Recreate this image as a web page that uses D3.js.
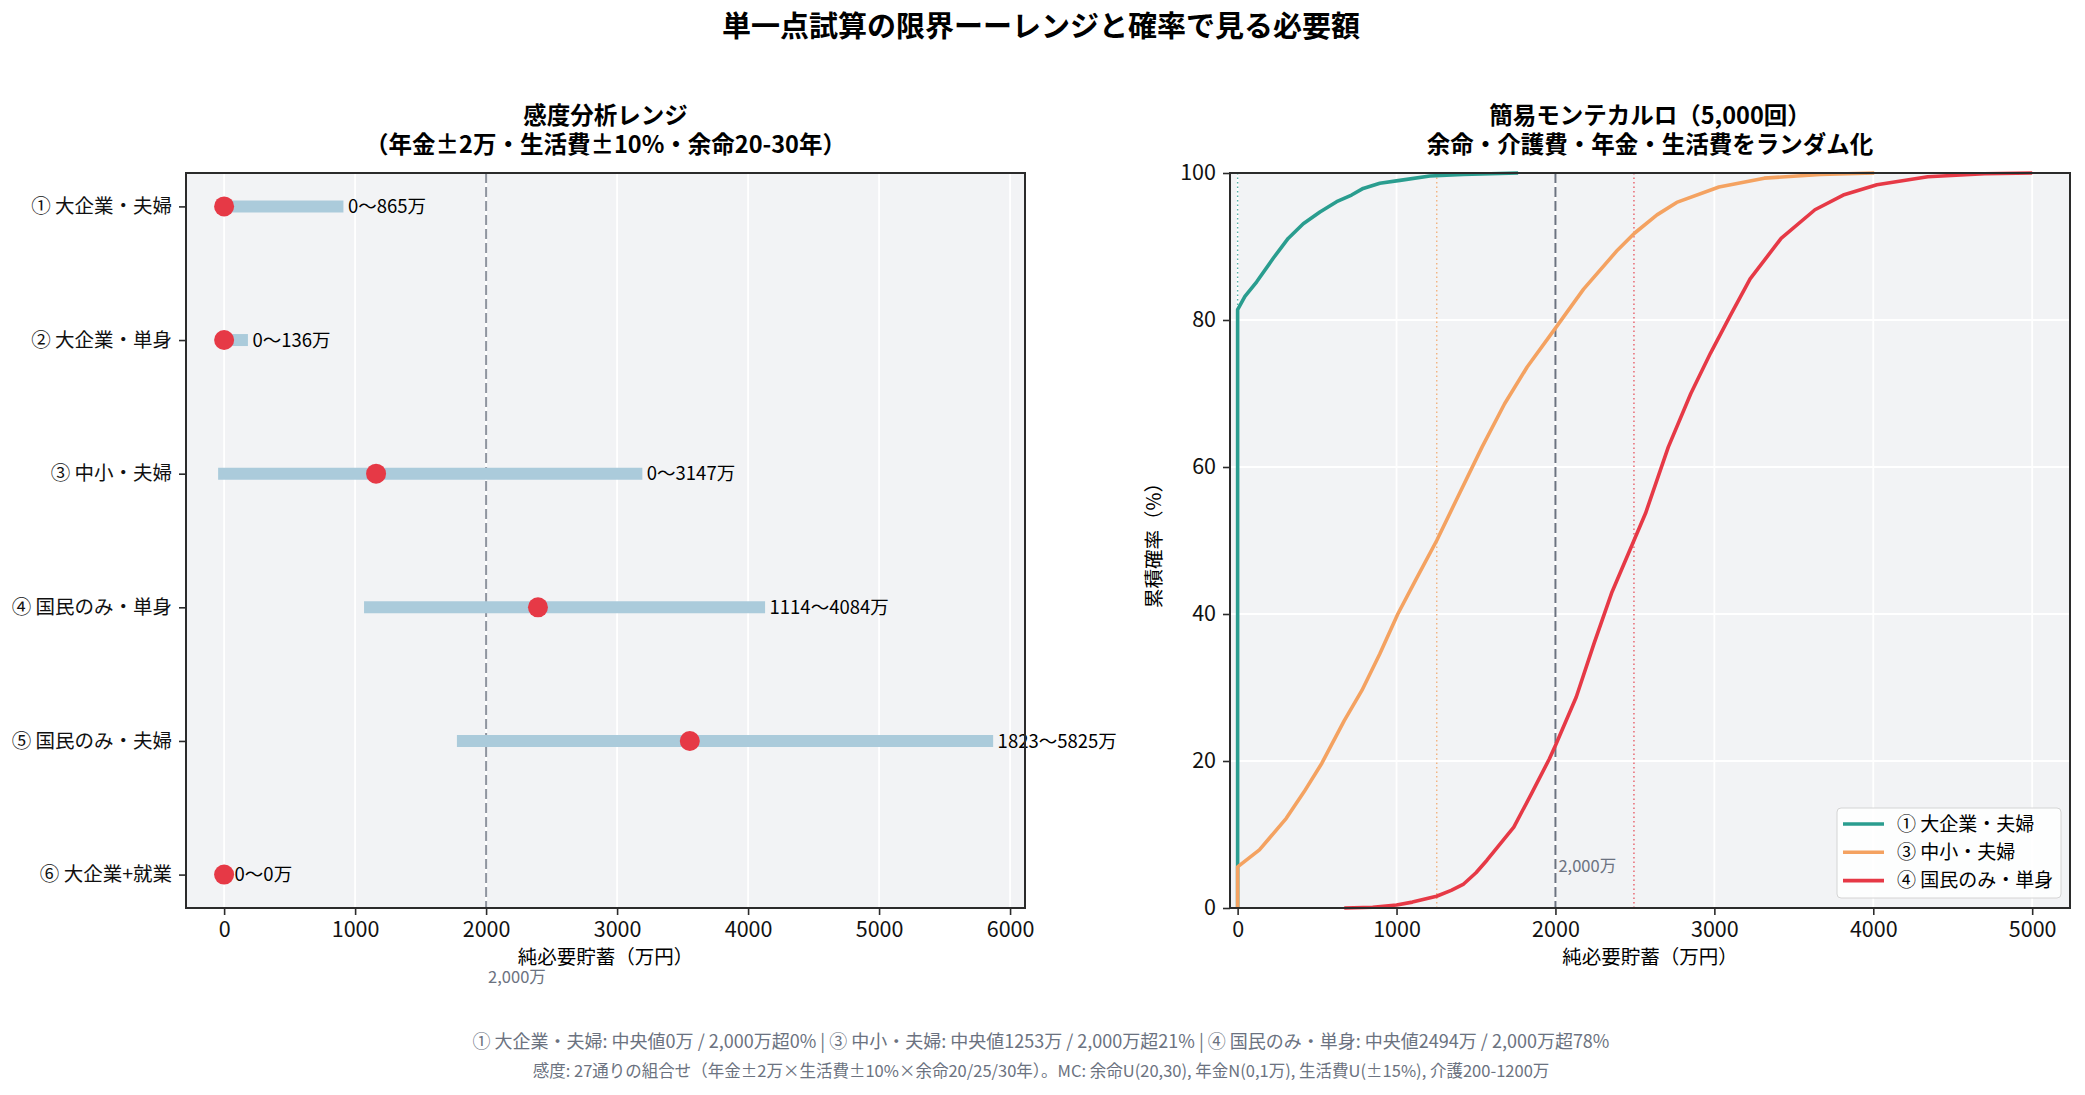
<!DOCTYPE html>
<html>
<head>
<meta charset="utf-8">
<script src="https://cdn.jsdelivr.net/npm/d3@7"></script>
<style>
  body { margin: 0; background: #fff; }
  svg text { font-family: "Noto Sans CJK JP", "Noto Sans", sans-serif; }
</style>
</head>
<body>
<div id="chart"></div>
<script>
// --- data: sensitivity ranges (left panel) ---
const categories = ["① 大企業・夫婦", "② 大企業・単身", "③ 中小・夫婦", "④ 国民のみ・単身", "⑤ 国民のみ・夫婦", "⑥ 大企業+就業"];
const rangeLow = [0, 0, 0, 1114, 1823, 0];
const rangeHigh = [865, 136, 3147, 4084, 5825, 0];
const baseValue = [0, 0, 1160, 2396, 3555, 0];

// --- data: Monte Carlo CDFs (right panel), [万円, %] ---
const seriesNames = ["① 大企業・夫婦", "③ 中小・夫婦", "④ 国民のみ・単身"];
const seriesColors = ["#2a9d8f", "#f4a261", "#e63946"];
const seriesMedians = [0, 1253, 2494];
const cdfCouple = [[0, 0], [0, 81.4], [46, 83.2], [120, 85.2], [224, 88.4], [318, 91.1], [413, 93.1], [518, 94.7],
  [623, 96.1], [717, 97.0], [790, 97.9], [895, 98.6], [1021, 99.0], [1210, 99.6], [1419, 99.8], [1765, 100]];
const cdfSme = [[0, 0], [0, 5.6], [137, 7.9], [306, 12.2], [418, 15.8], [530, 19.7], [671, 25.5], [782, 29.6],
  [895, 34.6], [1008, 40.0], [1120, 44.6], [1253, 50.0], [1396, 56.4], [1538, 62.7], [1680, 68.6], [1822, 73.6],
  [2000, 78.9], [2177, 84.2], [2390, 89.5], [2497, 91.8], [2639, 94.3], [2763, 96.0], [3029, 98.1], [3314, 99.3],
  [3668, 99.8], [4006, 100]];
const cdfNational = [[671, 0], [850, 0.1], [1000, 0.4], [1100, 0.8], [1252, 1.6], [1344, 2.4], [1419, 3.2],
  [1500, 4.8], [1569, 6.5], [1738, 11.0], [1850, 15.6], [1962, 20.3], [2000, 22.1], [2131, 28.7], [2243, 36.0],
  [2356, 43.0], [2494, 50.0], [2567, 53.7], [2710, 62.7], [2852, 70.0], [2976, 75.5], [3100, 80.6], [3225, 85.6],
  [3420, 91.1], [3633, 95.0], [3811, 97.0], [4023, 98.4], [4343, 99.5], [4700, 99.9], [5000, 100]];
const cdfSeries = [cdfCouple, cdfSme, cdfNational];

const threshold = 2000;
const leftTicks = [0, 1000, 2000, 3000, 4000, 5000, 6000];
const rightXTicks = [0, 1000, 2000, 3000, 4000, 5000];
const rightYTicks = [0, 20, 40, 60, 80, 100];

const footer1 = "① 大企業・夫婦: 中央値0万 / 2,000万超0% | ③ 中小・夫婦: 中央値1253万 / 2,000万超21% | ④ 国民のみ・単身: 中央値2494万 / 2,000万超78%";
const footer2 = "感度: 27通りの組合せ（年金±2万×生活費±10%×余命20/25/30年）。MC: 余命U(20,30), 年金N(0,1万), 生活費U(±15%), 介護200-1200万";

const W = 2085, H = 1095;
const bg = "#f2f3f5", spine = "#2b2b2b", gray = "#6b7280";

const svg = d3.select("#chart").append("svg").attr("width", W).attr("height", H);

svg.append("text").attr("x", 1041).attr("y", 37).attr("text-anchor", "middle")
  .style("font-size", "29px").style("font-weight", "bold").text("単一点試算の限界ーーレンジと確率で見る必要額");

function styleAxis(g, size) {
  g.select(".domain").remove();
  g.selectAll(".tick line").attr("stroke", spine).attr("stroke-width", 1.6);
  g.selectAll(".tick text").style("font-size", size).attr("fill", "#111");
}

// ---------------- left panel ----------------
const L = { x0: 186, x1: 1025, y0: 173, y1: 908 };
const xL = d3.scaleLinear().domain([-291, 6114]).range([L.x0, L.x1]);
const yL = d3.scalePoint().domain(categories).range([L.y0, L.y1]).padding(0.25);

const left = svg.append("g");
left.append("rect").attr("x", L.x0).attr("y", L.y0).attr("width", L.x1 - L.x0).attr("height", L.y1 - L.y0).attr("fill", bg);
left.append("g").selectAll("line").data(leftTicks).join("line")
  .attr("x1", d => xL(d)).attr("x2", d => xL(d)).attr("y1", L.y0).attr("y2", L.y1)
  .attr("stroke", "#fff").attr("stroke-width", 1.8);

left.append("line").attr("x1", xL(threshold)).attr("x2", xL(threshold)).attr("y1", L.y0).attr("y2", L.y1)
  .attr("stroke", gray).attr("stroke-width", 2).attr("stroke-dasharray", "10,4").attr("opacity", 0.75);

left.append("g").selectAll("line").data(categories).join("line")
  .attr("x1", (d, i) => xL(rangeLow[i])).attr("x2", (d, i) => xL(rangeHigh[i]))
  .attr("y1", d => yL(d)).attr("y2", d => yL(d))
  .attr("stroke", "#abcbdb").attr("stroke-width", 12).attr("stroke-linecap", "square");

left.append("g").selectAll("circle").data(categories).join("circle")
  .attr("cx", (d, i) => xL(baseValue[i])).attr("cy", d => yL(d)).attr("r", 10).attr("fill", "#e63946");

left.append("g").selectAll("text").data(categories).join("text")
  .attr("x", (d, i) => xL(rangeHigh[i] + 80)).attr("y", d => yL(d)).attr("dy", "0.36em")
  .style("font-size", "18.5px").text((d, i) => `${rangeLow[i]}～${rangeHigh[i]}万`);

left.append("g").attr("transform", `translate(0,${L.y1})`)
  .call(d3.axisBottom(xL).tickValues(leftTicks).tickFormat(d3.format("d")).tickSize(7).tickPadding(7))
  .call(g => styleAxis(g, "21.5px"));
left.append("g").attr("transform", `translate(${L.x0},0)`)
  .call(d3.axisLeft(yL).tickSize(7).tickPadding(7))
  .call(g => styleAxis(g, "19.5px"));

left.append("rect").attr("x", L.x0).attr("y", L.y0).attr("width", L.x1 - L.x0).attr("height", L.y1 - L.y0)
  .attr("fill", "none").attr("stroke", spine).attr("stroke-width", 2);

left.append("text").attr("x", xL(threshold) + 2).attr("y", 983).attr("fill", gray).style("font-size", "16.5px").text("2,000万");
left.append("text").attr("x", (L.x0 + L.x1) / 2).attr("y", 964).attr("text-anchor", "middle").style("font-size", "19.5px").text("純必要貯蓄（万円）");
left.append("text").attr("x", (L.x0 + L.x1) / 2).attr("y", 124).attr("text-anchor", "middle")
  .style("font-size", "23.5px").style("font-weight", "bold").text("感度分析レンジ");
left.append("text").attr("x", (L.x0 + L.x1) / 2).attr("y", 153).attr("text-anchor", "middle")
  .style("font-size", "23.5px").style("font-weight", "bold").text("（年金±2万・生活費±10%・余命20-30年）");

// ---------------- right panel ----------------
const R = { x0: 1230, x1: 2070, y0: 173, y1: 908 };
const xR = d3.scaleLinear().domain([-48, 5238]).range([R.x0, R.x1]);
const yR = d3.scaleLinear().domain([0, 100]).range([R.y1, R.y0]);

const right = svg.append("g");
right.append("rect").attr("x", R.x0).attr("y", R.y0).attr("width", R.x1 - R.x0).attr("height", R.y1 - R.y0).attr("fill", bg);
right.append("g").selectAll("line").data(rightXTicks).join("line")
  .attr("x1", d => xR(d)).attr("x2", d => xR(d)).attr("y1", R.y0).attr("y2", R.y1)
  .attr("stroke", "#fff").attr("stroke-width", 1.8);
right.append("g").selectAll("line").data(rightYTicks).join("line")
  .attr("x1", R.x0).attr("x2", R.x1).attr("y1", d => yR(d)).attr("y2", d => yR(d))
  .attr("stroke", "#fff").attr("stroke-width", 1.8);

right.append("line").attr("x1", xR(threshold)).attr("x2", xR(threshold)).attr("y1", R.y0).attr("y2", R.y1)
  .attr("stroke", gray).attr("stroke-width", 2).attr("stroke-dasharray", "10,4");
right.append("text").attr("x", xR(threshold) + 3).attr("y", yR(5) + 1).attr("fill", gray).style("font-size", "16.5px").text("2,000万");

right.append("g").selectAll("line").data(seriesMedians).join("line")
  .attr("x1", d => xR(d)).attr("x2", d => xR(d)).attr("y1", R.y0).attr("y2", R.y1)
  .attr("stroke", (d, i) => seriesColors[i]).attr("stroke-width", 1.4).attr("stroke-dasharray", "1.5,3").attr("opacity", 0.8);

const line = d3.line().x(d => xR(d[0])).y(d => yR(d[1]));
right.append("g").selectAll("path").data(cdfSeries).join("path")
  .attr("d", line).attr("fill", "none").attr("stroke", (d, i) => seriesColors[i])
  .attr("stroke-width", 3.6).attr("stroke-linejoin", "round");

right.append("g").attr("transform", `translate(0,${R.y1})`)
  .call(d3.axisBottom(xR).tickValues(rightXTicks).tickFormat(d3.format("d")).tickSize(7).tickPadding(7))
  .call(g => styleAxis(g, "21.5px"));
right.append("g").attr("transform", `translate(${R.x0},0)`)
  .call(d3.axisLeft(yR).tickValues(rightYTicks).tickSize(7).tickPadding(7))
  .call(g => styleAxis(g, "21.5px"));

right.append("rect").attr("x", R.x0).attr("y", R.y0).attr("width", R.x1 - R.x0).attr("height", R.y1 - R.y0)
  .attr("fill", "none").attr("stroke", spine).attr("stroke-width", 2);

right.append("text").attr("x", (R.x0 + R.x1) / 2).attr("y", 964).attr("text-anchor", "middle").style("font-size", "19.5px").text("純必要貯蓄（万円）");
right.append("text").attr("transform", `translate(1154,${(R.y0 + R.y1) / 2}) rotate(-90)`).attr("dy", "0.36em")
  .attr("text-anchor", "middle").style("font-size", "19.5px").text("累積確率（%）");
right.append("text").attr("x", (R.x0 + R.x1) / 2).attr("y", 124).attr("text-anchor", "middle")
  .style("font-size", "23.5px").style("font-weight", "bold").text("簡易モンテカルロ（5,000回）");
right.append("text").attr("x", (R.x0 + R.x1) / 2).attr("y", 153).attr("text-anchor", "middle")
  .style("font-size", "23.5px").style("font-weight", "bold").text("余命・介護費・年金・生活費をランダム化");

// legend
const legend = right.append("g").attr("transform", "translate(1837,808)");
legend.append("rect").attr("width", 224).attr("height", 90).attr("rx", 4)
  .attr("fill", "#fff").attr("fill-opacity", 0.85).attr("stroke", "#d4d4d4");
const item = legend.selectAll("g").data(seriesNames).join("g")
  .attr("transform", (d, i) => `translate(0,${16 + i * 28.3})`);
item.append("line").attr("x1", 6).attr("x2", 47).attr("stroke", (d, i) => seriesColors[i]).attr("stroke-width", 3.6);
item.append("text").attr("x", 60).attr("dy", "0.36em").style("font-size", "19px").text(d => d);

// footer
svg.append("text").attr("x", 1041).attr("y", 1048).attr("text-anchor", "middle").attr("fill", gray)
  .style("font-size", "18px").text(footer1);
svg.append("text").attr("x", 1041).attr("y", 1077).attr("text-anchor", "middle").attr("fill", gray)
  .style("font-size", "16.5px").text(footer2);
</script>
</body>
</html>
